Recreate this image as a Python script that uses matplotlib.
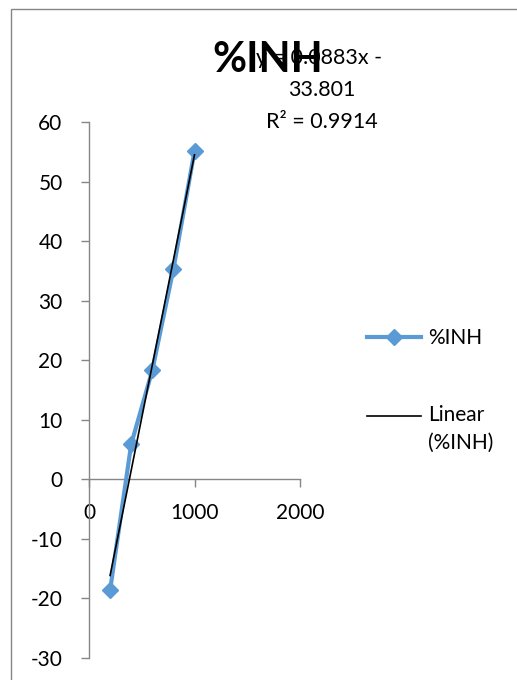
import matplotlib
matplotlib.use('Agg')
import matplotlib.pyplot as plt
from matplotlib.patches import Rectangle

plt.rcParams['font.family'] = ['Lato', 'DejaVu Sans']
plt.rcParams['axes.unicode_minus'] = False

# data
conc = [200, 400, 600, 800, 1000]
inh = [-18.6, 5.9, 18.3, 35.3, 55.1]

# trendline as printed on the chart
slope = 0.0883
intercept = -33.801
r2 = 0.9914

xticks = [0, 1000, 2000]
yticks = [-30, -20, -10, 0, 10, 20, 30, 40, 50, 60]

W, H = 517, 680
fig = plt.figure(figsize=(W / 100, H / 100), dpi=100)
ax = fig.add_axes([89 / W, 22 / H, 211 / W, 536 / H])

blue = '#5B9BD5'
grey = '#868686'

ax.plot(conc, inh, color=blue, lw=3, marker='D', ms=8.5, mew=1,
        mec=blue, mfc=blue, label='%INH', zorder=3)

tx = [conc[0], conc[-1]]
ty = [slope * v + intercept for v in tx]
ax.plot(tx, ty, color='black', lw=1.2, label='Linear\n(%INH)', zorder=4)

ax.set_xlim(0, 2000)
ax.set_ylim(-30, 60)
ax.set_xticks(xticks)
ax.set_yticks(yticks)

ax.spines['top'].set_visible(False)
ax.spines['right'].set_visible(False)
ax.spines['bottom'].set_position(('data', 0))
for s in ['left', 'bottom']:
    ax.spines[s].set_color(grey)
    ax.spines[s].set_linewidth(1)
ax.tick_params(axis='both', direction='out', length=6, width=1, color=grey,
               labelsize=15)
ax.tick_params(axis='x', pad=11)
ax.tick_params(axis='y', pad=13)
ax.patch.set_alpha(0)

# title and trendline label overlap like in the original
fig.text(268 / W, 1 - 60 / H, '%INH', ha='center', va='center',
         fontsize=30, fontweight='bold')
fig.text(322 / W, 1 - 90 / H,
         'y = %.4fx - \n%.3f\nR² = %.4f' % (slope, -intercept, r2),
         ha='center', va='center', fontsize=15.5, linespacing=1.72)

leg = fig.legend(loc='upper left', bbox_to_anchor=(367 / W, 1 - 328 / H),
                 frameon=False, fontsize=15, handlelength=2.6,
                 handletextpad=0.35, labelspacing=2.75, borderpad=0,
                 borderaxespad=0)
leg.get_texts()[1].set_linespacing(1.5)
# excel puts the trendline sample level with the first text line
h = leg.legend_handles[1]
h.set_ydata([y + 10 for y in h.get_ydata()])

# chart area border
fig.patches.append(Rectangle((11 / W, -0.1), 2, 1.1 - 9.5 / H,
                             transform=fig.transFigure, fill=False,
                             edgecolor=grey, lw=1))

plt.savefig('out.png', dpi=100)
